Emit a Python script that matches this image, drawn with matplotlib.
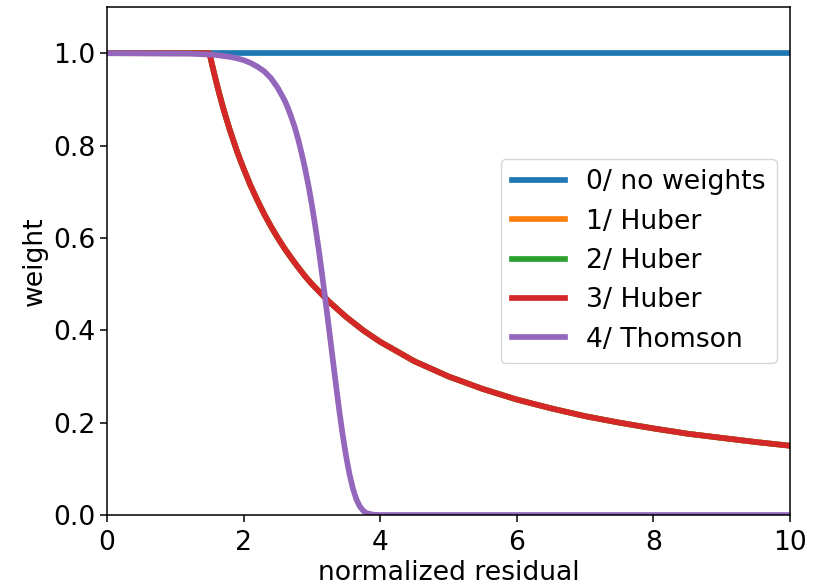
import numpy as np
import matplotlib
matplotlib.use('Agg')
import matplotlib.pyplot as plt

x_flat = [0.0, 10.0]
w_none = [1.0, 1.0]

x_huber = [0.0, 1.5, 1.55, 1.6, 1.65, 1.7, 1.75, 1.8, 1.85, 1.9, 1.95, 2.0, 2.1,
           2.2, 2.3, 2.4, 2.5, 2.6, 2.7, 2.8, 2.9, 3.0, 3.25, 3.5, 3.75, 4.0, 4.5,
           5.0, 5.5, 6.0, 6.5, 7.0, 7.5, 8.0, 8.5, 9.0, 9.5, 10.0]
w_huber = [1.0, 1.0, 0.968, 0.9375, 0.909, 0.882, 0.857, 0.833, 0.811, 0.789,
           0.769, 0.75, 0.714, 0.682, 0.652, 0.625, 0.6, 0.577, 0.556, 0.536,
           0.517, 0.5, 0.462, 0.429, 0.4, 0.375, 0.333, 0.3, 0.273, 0.25, 0.231,
           0.214, 0.2, 0.1875, 0.176, 0.167, 0.158, 0.15]

x_thom = [0.0, 1.0, 1.2, 1.5, 1.6, 1.8, 1.9, 2.0, 2.1, 2.2, 2.3, 2.4, 2.5, 2.6,
          2.65, 2.7, 2.75, 2.8, 2.85, 2.9, 2.95, 3.0, 3.05, 3.1, 3.15, 3.2, 3.25,
          3.3, 3.35, 3.4, 3.45, 3.5, 3.55, 3.6, 3.65, 3.7, 3.75, 3.8, 3.9, 4.0, 10.0]
w_thom = [1.0, 0.999, 0.999, 0.997, 0.996, 0.992, 0.989, 0.985, 0.979, 0.971,
          0.961, 0.946, 0.925, 0.898, 0.881, 0.861, 0.839, 0.813, 0.783, 0.75,
          0.713, 0.671, 0.625, 0.575, 0.520, 0.463, 0.404, 0.344, 0.284, 0.227,
          0.174, 0.128, 0.0885, 0.0574, 0.0345, 0.0189, 0.0093, 0.0041, 0.0005,
          0.0, 0.0]

labels = ['0/ no weights', '1/ Huber', '2/ Huber', '3/ Huber', '4/ Thomson']

fs = 19.2
lw = 4.1
plt.rcParams['font.size'] = fs
plt.rcParams['axes.linewidth'] = 1.1
plt.rcParams['xtick.major.size'] = 4.8
plt.rcParams['ytick.major.size'] = 4.8
plt.rcParams['xtick.major.width'] = 1.1
plt.rcParams['ytick.major.width'] = 1.1

fig = plt.figure(figsize=(8.21, 5.87), dpi=100)
ax = fig.add_axes([107/821, 72/587, 683/821, 508/587])

ax.plot(x_flat, w_none, lw=lw, label=labels[0])
ax.plot(x_huber, w_huber, lw=lw, label=labels[1])
ax.plot(x_huber, w_huber, lw=lw, label=labels[2])
ax.plot(x_huber, w_huber, lw=lw, label=labels[3])
ax.plot(x_thom, w_thom, lw=lw, label=labels[4])

ax.set_xlim(0, 10)
ax.set_ylim(0, 1.1)
ax.set_xticks([0, 2, 4, 6, 8, 10])
ax.set_yticks([0.0, 0.2, 0.4, 0.6, 0.8, 1.0])
ax.tick_params(axis='x', pad=6)
ax.set_xlabel('normalized residual', labelpad=3)
ax.set_ylabel('weight')
ax.legend(loc='center right', fontsize=fs)

fig.savefig('out.png', dpi=100)
